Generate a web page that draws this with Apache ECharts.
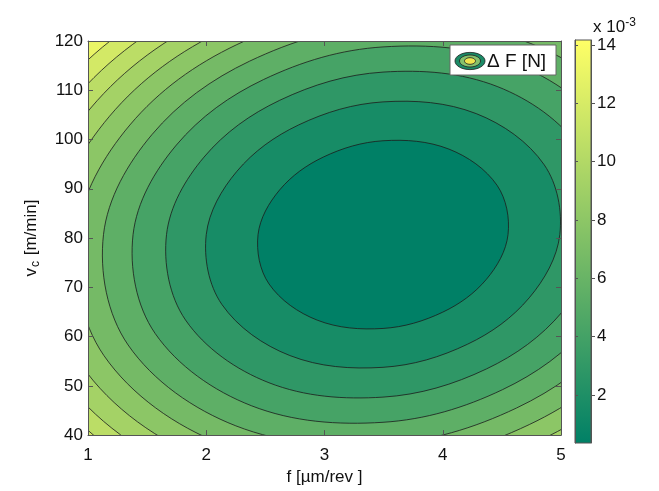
<!DOCTYPE html>
<html>
<head>
<meta charset="utf-8">
<script src="https://cdn.jsdelivr.net/npm/echarts@6/dist/echarts.min.js"></script>
<style>html,body{margin:0;padding:0;background:#fff}#chart{width:659px;height:491px}</style>
</head>
<body>
<div id="chart"></div>
<script>
// ---- data ----
const fRange = [1, 5];            // f [µm/rev]
const vcRange = [40, 120];        // vc [m/min]
const fTicks = [1, 2, 3, 4, 5];
const vcTicks = [40, 50, 60, 70, 80, 90, 100, 110, 120];
const colorbarTicks = [2, 4, 6, 8, 10, 12, 14];   // x 10^-3
const dFMin = 0.35, dFMax = 14.17;                // colour range (x 10^-3 N)
const contourLevels = [1.62, 2.89, 4.15, 5.42, 6.69, 7.96, 9.23, 10.50, 11.76, 13.03];

// contour lines, [f, vc] points read around each level (innermost first)
const contour1 = [[4.552,80.7],[4.459,90.72],[4.052,98.06],[3.495,99.75],[2.990,96.44],[2.621,89.78],[2.438,80.7],[2.531,70.68],[2.938,63.34],[3.495,61.65],[4.000,64.96],[4.369,71.62]];
const contour2 = [[4.990,80.7],[4.858,94.87],[4.283,105.26],[3.495,107.64],[2.781,102.96],[2.259,93.55],[2.000,80.7],[2.132,66.53],[2.707,56.15],[3.495,53.76],[4.209,58.44],[4.731,67.86]];
const contour3 = [[5.326,80.7],[5.165,98.05],[4.460,110.77],[3.495,113.69],[2.621,107.96],[1.981,96.43],[1.664,80.7],[1.825,63.35],[2.530,50.63],[3.495,47.71],[4.370,53.44],[5.009,64.97]];
const contour4 = [[5.609,80.7],[5.423,100.74],[4.609,115.43],[3.495,118.80],[2.485,112.18],[1.747,98.87],[1.381,80.7],[1.567,60.66],[2.381,45.97],[3.495,42.60],[4.505,49.22],[5.243,62.53]];
const contour5 = [[5.859,80.7],[5.651,103.10],[4.740,119.53],[3.495,123.30],[2.366,115.90],[1.541,101.01],[1.131,80.7],[1.339,58.30],[2.250,41.88],[3.495,38.11],[4.624,45.50],[5.450,60.39]];
const contour6 = [[6.084,80.7],[5.856,105.24],[4.859,123.23],[3.495,127.36],[2.258,119.26],[1.354,102.95],[0.906,80.7],[1.134,56.16],[2.131,38.17],[3.495,34.04],[4.732,42.14],[5.636,58.45]];
const contour7 = [[6.292,80.7],[6.046,107.21],[4.968,126.64],[3.495,131.10],[2.159,122.35],[1.182,104.73],[0.698,80.7],[0.945,54.19],[2.022,34.76],[3.495,30.30],[4.831,39.05],[5.808,56.67]];
const contour8 = [[6.485,80.7],[6.222,109.04],[5.070,129.81],[3.495,134.58],[2.067,125.22],[1.023,106.39],[0.505,80.7],[0.768,52.36],[1.920,31.59],[3.495,26.82],[4.923,36.18],[5.967,55.01]];
const contour9 = [[6.666,80.7],[6.387,110.76],[5.166,132.79],[3.495,137.85],[1.980,127.92],[0.873,107.95],[0.324,80.7],[0.620,51.30],[1.824,28.61],[3.495,23.55],[5.010,33.48],[6.117,53.45]];
const contour10 = [[6.838,80.7],[6.543,112.38],[5.256,135.61],[3.495,140.94],[1.898,130.48],[0.731,109.42],[0.152,80.7],[0.447,49.02],[1.734,25.79],[3.495,19.76],[5.092,30.92],[6.259,51.98]];

// ---- styles ----
const cmapLow = '#008066', cmapHigh = '#ffff66';   // MATLAB "summer"
const FONT = '"Liberation Sans", Arial, Helvetica, sans-serif';
const TXT = '#111';

const contours = [contour1, contour2, contour3, contour4, contour5, contour6, contour7, contour8, contour9, contour10];
// draw order: background (above last level), then regions inside level 10 .. level 1
const fillData = [[0, contourLevels[9]]];
for (let n = 10; n >= 1; n--) {
  fillData.push([11 - n, n >= 2 ? contourLevels[n - 2] : dFMin]);
}

function renderContour(params, api) {
  const i = params.dataIndex;
  const color = api.visual('color');
  const cs = params.coordSys;
  let child;
  if (i === 0) {
    const p0 = api.coord([fRange[0], vcRange[1]]);
    const p1 = api.coord([fRange[1], vcRange[0]]);
    child = {type: 'rect', shape: {x: p0[0], y: p0[1], width: p1[0] - p0[0], height: p1[1] - p0[1]},
             style: {fill: color}};
  } else {
    const pts = contours[10 - i].map(p => api.coord(p));
    child = {type: 'polygon', shape: {points: pts, smooth: 0.35},
             style: {fill: color, stroke: '#1c1c1c', lineWidth: 0.8}};
  }
  return {type: 'group',
          clipPath: {type: 'rect', shape: {x: cs.x, y: cs.y, width: cs.width, height: cs.height}},
          children: [child]};
}

function renderColorbar(params, api) {
  const p0 = api.coord([0, dFMax]);
  const p1 = api.coord([1, dFMin]);
  return {type: 'rect', shape: {x: p0[0], y: p0[1], width: p1[0] - p0[0], height: p1[1] - p0[1]},
          style: {fill: new echarts.graphic.LinearGradient(0, 1, 0, 0,
                   [{offset: 0, color: cmapLow}, {offset: 1, color: cmapHigh}]),
                  stroke: '#555', lineWidth: 1}};
}

// small elliptical legend icon outline (decoration only)
function iconEllipse(cx, cy, rx, ry) {
  const pts = [];
  for (let k = 0; k < 32; k++) {
    const a = k / 32 * Math.PI * 2;
    pts.push([cx + rx * Math.cos(a), cy + ry * Math.sin(a)]);
  }
  return pts;
}

const axisLineStyle = {color: '#555', width: 1};
const chart = echarts.init(document.getElementById('chart'), null, {renderer: 'canvas'});
chart.setOption({
  animation: false,
  backgroundColor: '#fff',
  grid: [
    {left: 88, top: 41, width: 473, height: 399},
    {left: 575, top: 40, width: 16, height: 403}
  ],
  visualMap: {
    show: false, type: 'continuous', seriesIndex: 0, dimension: 1,
    min: dFMin, max: dFMax, inRange: {color: [cmapLow, cmapHigh]}
  },
  xAxis: [
    {gridIndex: 0, type: 'value', min: fRange[0], max: fRange[1], interval: 1, position: 'bottom', z: 5,
     axisLine: {show: true, onZero: false, lineStyle: axisLineStyle},
     axisTick: {show: true, inside: true, length: 5, lineStyle: axisLineStyle, customValues: fTicks},
     axisLabel: {fontSize: 17, color: TXT, fontFamily: FONT, margin: 12, customValues: fTicks},
     splitLine: {show: false},
     name: 'f [µm/rev ]', nameLocation: 'middle', nameGap: 32,
     nameTextStyle: {fontSize: 17, color: TXT, fontFamily: FONT}},
    {gridIndex: 0, type: 'value', min: fRange[0], max: fRange[1], interval: 1, position: 'top', z: 5,
     axisLine: {show: true, onZero: false, lineStyle: axisLineStyle},
     axisTick: {show: true, inside: true, length: 5, lineStyle: axisLineStyle},
     axisLabel: {show: false}, splitLine: {show: false}},
    {gridIndex: 1, type: 'value', min: 0, max: 1, show: false}
  ],
  yAxis: [
    {gridIndex: 0, type: 'value', min: vcRange[0], max: vcRange[1], interval: 10, position: 'left', z: 5,
     axisLine: {show: true, onZero: false, lineStyle: axisLineStyle},
     axisTick: {show: true, inside: true, length: 5, lineStyle: axisLineStyle},
     axisLabel: {fontSize: 17, color: TXT, fontFamily: FONT, margin: 5, customValues: vcTicks},
     splitLine: {show: false},
     name: '{m|v}{s|c}{m| [m/min]}', nameLocation: 'middle', nameGap: 46, nameRotate: 90,
     nameTextStyle: {color: TXT, fontFamily: FONT,
       rich: {m: {fontSize: 17, color: TXT, fontFamily: FONT, lineHeight: 22},
              s: {fontSize: 12, color: TXT, fontFamily: FONT, verticalAlign: 'bottom', lineHeight: 12, padding: [0, 1, 0, 1]}}}},
    {gridIndex: 0, type: 'value', min: vcRange[0], max: vcRange[1], interval: 10, position: 'right', z: 5,
     axisLine: {show: true, onZero: false, lineStyle: axisLineStyle},
     axisTick: {show: true, inside: true, length: 5, lineStyle: axisLineStyle},
     axisLabel: {show: false}, splitLine: {show: false}},
    {gridIndex: 1, type: 'value', min: dFMin, max: dFMax, position: 'right', z: 5,
     axisLine: {show: true, onZero: false, lineStyle: axisLineStyle},
     axisTick: {show: true, inside: false, length: 4, lineStyle: axisLineStyle, customValues: colorbarTicks},
     axisLabel: {fontSize: 17, color: TXT, fontFamily: FONT, margin: 6, customValues: colorbarTicks},
     splitLine: {show: false},
     name: '{a|x 10}{b|-3}', nameLocation: 'end', nameGap: 3,
     nameTextStyle: {align: 'left', verticalAlign: 'bottom', padding: [0, 0, 0, 2],
       rich: {a: {fontSize: 17, color: TXT, fontFamily: FONT, lineHeight: 20},
              b: {fontSize: 12, color: TXT, fontFamily: FONT, verticalAlign: 'top', lineHeight: 12}}}},
    {gridIndex: 1, type: 'value', min: dFMin, max: dFMax, position: 'left', z: 5,
     axisLine: {show: true, onZero: false, lineStyle: axisLineStyle},
     axisTick: {show: true, inside: true, length: 3, lineStyle: axisLineStyle, customValues: colorbarTicks},
     axisLabel: {show: false}, splitLine: {show: false}}
  ],
  series: [
    {type: 'custom', name: 'Δ F [N]', coordinateSystem: 'cartesian2d', xAxisIndex: 0, yAxisIndex: 0,
     clip: true, silent: true, z: 1, dimensions: ['order', 'level'],
     encode: {x: -1, y: -1}, data: fillData, renderItem: renderContour},
    {type: 'custom', coordinateSystem: 'cartesian2d', xAxisIndex: 2, yAxisIndex: 2,
     silent: true, z: 1, data: [[0, dFMin]], renderItem: renderColorbar}
  ],
  graphic: {elements: [
    {type: 'rect', z: 100, shape: {x: 450, y: 45, width: 106, height: 30}, style: {fill: '#fff', stroke: '#666', lineWidth: 1}},
    {type: 'polygon', z: 101, shape: {points: iconEllipse(470, 61, 15, 8.6)}, style: {fill: '#1b8a66', stroke: '#1c1c1c', lineWidth: 0.8}},
    {type: 'polygon', z: 102, shape: {points: iconEllipse(470, 61, 10.5, 6)}, style: {fill: '#86c16c', stroke: '#1c1c1c', lineWidth: 0.8}},
    {type: 'polygon', z: 103, shape: {points: iconEllipse(470, 61, 5.5, 3.3)}, style: {fill: '#f0e44e', stroke: '#1c1c1c', lineWidth: 0.8}},
    {type: 'text', z: 104, x: 487, y: 61.5, style: {text: 'Δ F [N]', fontSize: 19, fontFamily: FONT, fill: TXT, verticalAlign: 'middle'}}
  ]}
});
</script>
</body>
</html>
